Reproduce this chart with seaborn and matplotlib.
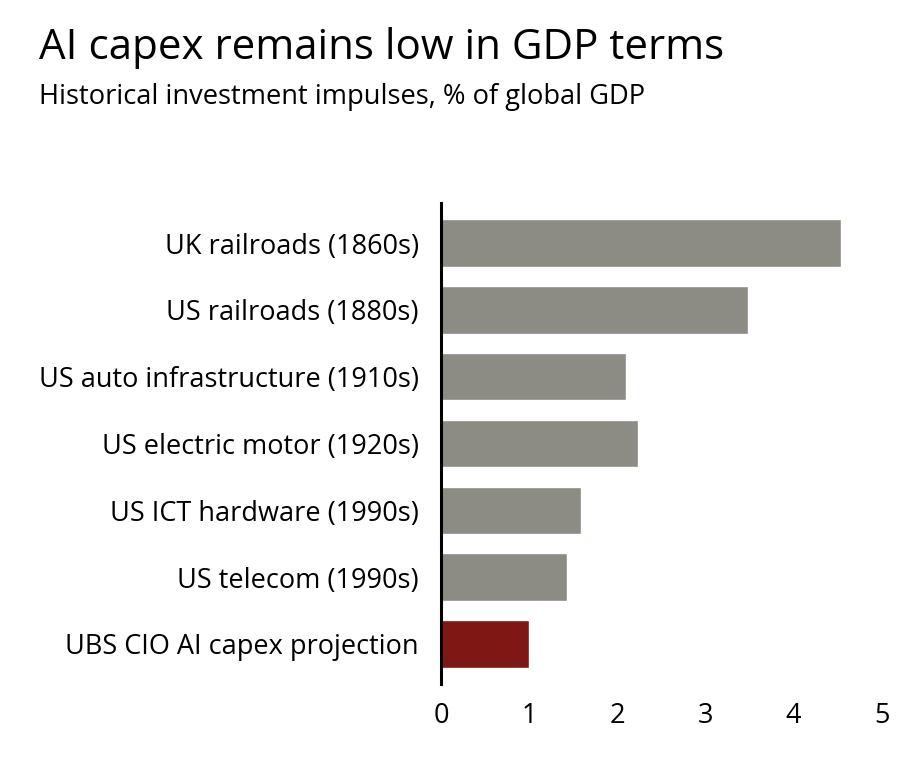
import pandas as pd
import matplotlib.pyplot as plt
import seaborn as sns

# Data
categories = [
    "UK railroads (1860s)",
    "US railroads (1880s)",
    "US auto infrastructure (1910s)",
    "US electric motor (1920s)",
    "US ICT hardware (1990s)",
    "US telecom (1990s)",
    "UBS CIO AI capex projection",
]
values = [4.54, 3.48, 2.10, 2.23, 1.59, 1.43, 1.0]
groups = ["hist", "hist", "hist", "hist", "hist", "hist", "ubs"]
xticks = [0, 1, 2, 3, 4, 5]

palette = {"hist": "#8c8c84", "ubs": "#7f1715"}

sns.set_style("white")
plt.rcParams["font.family"] = ["Open Sans", "DejaVu Sans"]
plt.rcParams["text.color"] = "black"
plt.rcParams["xtick.color"] = "black"
plt.rcParams["ytick.color"] = "black"

df = pd.DataFrame({"label": categories, "value": values, "group": groups})

fig = plt.figure(figsize=(9.14, 7.64), dpi=100)
ax = fig.add_axes([0.4825, 0.1047, 0.4821, 0.6296])

sns.barplot(
    data=df, x="value", y="label", hue="group", palette=palette,
    dodge=False, legend=False, width=0.71, saturation=1, ax=ax,
)

ax.set_xlim(0, 5)
ax.set_ylim(6.6, -0.6)
ax.set_xticks(xticks)
ax.set_xticklabels([str(t) for t in xticks], fontsize=19.5)
ax.tick_params(axis="y", labelsize=19.5, length=0, pad=16)
ax.tick_params(axis="x", length=0, pad=13)
ax.set_xlabel("")
ax.set_ylabel("")
for side in ["top", "right", "bottom"]:
    ax.spines[side].set_visible(False)
ax.spines["left"].set_linewidth(2.2)
ax.spines["left"].set_color("black")

fig.text(0.0427, 0.937, "AI capex remains low in GDP terms", fontsize=30.3, va="center")
fig.text(0.0427, 0.873, "Historical investment impulses, % of global GDP", fontsize=19.6, va="center")

fig.savefig("out.png", dpi=100)
